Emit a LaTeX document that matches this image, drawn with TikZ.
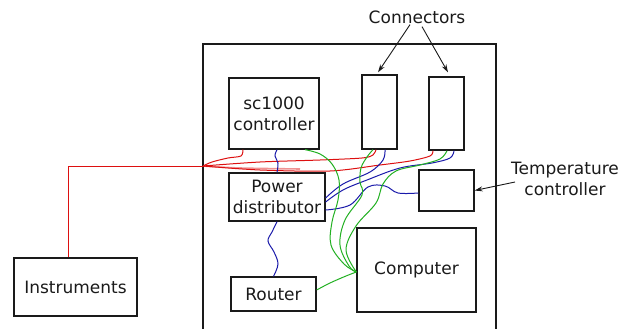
\documentclass[tikz,border=0pt]{standalone}
\usepackage{fontspec}
\setmainfont{DejaVu Sans}
\usetikzlibrary{arrows.meta}
\definecolor{ink}{HTML}{1A1A1A}
\definecolor{wred}{HTML}{DD1010}
\definecolor{wblue}{HTML}{1A1AAA}
\definecolor{wgreen}{HTML}{22B022}
\tikzset{
  unit/.style={draw=ink, line width=1.3pt, inner sep=0pt, align=center,
    text=ink, font=\fontsize{17}{21}\selectfont},
  label/.style={inner sep=0pt, align=center, text=ink,
    font=\fontsize{17}{21}\selectfont},
  frame/.style={draw=ink, line width=1.3pt},
  pointer/.style={draw=ink, line width=0.9pt, -{Stealth[length=8pt,width=5pt]}},
  redw/.style={draw=wred, line width=1pt},
  bluew/.style={draw=wblue, line width=1pt},
  greenw/.style={draw=wgreen, line width=1pt},
}
\begin{document}
\begin{tikzpicture}[x=1pt,y=-1pt]
\useasboundingbox (0,0) rectangle (627,329);

% cabinet outline, open at the bottom
\draw[frame] (203,329) |- (496,44) -- (496,329);

% units
\node[unit, minimum width=90pt, minimum height=71pt] (sc) at (274,113.5) {sc1000\\controller};
\node[unit, minimum width=35pt, minimum height=74pt] (c1) at (379.5,112) {};
\node[unit, minimum width=35pt, minimum height=73pt] (c2) at (446.5,113.5) {};
\node[unit, minimum width=96pt, minimum height=48pt] (pd) at (277,197) {Power\\distributor};
\node[unit, minimum width=55pt, minimum height=41pt] (tc) at (446.5,190.5) {};
\node[unit, minimum width=119pt, minimum height=84pt] (comp) at (416.5,270) {Computer};
\node[unit, minimum width=85pt, minimum height=34pt] (router) at (273.5,294) {Router};
\node[unit, minimum width=123pt, minimum height=58pt] (inst) at (75.5,287) {Instruments};

% labels
\node[label] (conlbl) at (417,17) {Connectors};
\node[label] (tlbl) at (565,179) {Temperature\\controller};
\coordinate (ta) at (515,182);

\draw[pointer] ([xshift=-7,yshift=-1]conlbl.south) -- ([xshift=-1.5,yshift=2]c1.north);
\draw[pointer] ([xshift=5,yshift=-3]conlbl.south) -- ([xshift=1.5,yshift=4]c2.north);
\draw[pointer] (ta) -- (tc.east);

% instrument cable entry point
\coordinate (J) at (203,166);
\draw[redw] ([xshift=-7.5]inst.north) |- (J);

% red wires
\draw[redw] plot[smooth,tension=0.5] coordinates {([xshift=-31]sc.south) (241,156) (228,158) (212,162) (J)};
\draw[redw] plot[smooth,tension=0.5] coordinates {([xshift=-3.5]c1.south) (373,155) (362,158) (320,160) (260,162) (J)};
\draw[redw] plot[smooth,tension=0.5] coordinates {([xshift=-13.5]c2.south) (430,156) (410,161) (380,165) (330,171) (260,170) (J)};
\draw[redw, opacity=0.45, line width=1.6pt] plot[smooth,tension=0.5] coordinates {(J) (240,168) (300,169)};

% blue wires
\draw[bluew] plot[smooth,tension=0.6] coordinates {([xshift=3]sc.south) (275,156) (278,163) (pd.north)};
\draw[bluew] plot[smooth,tension=0.6] coordinates {([xshift=5.5]c1.south) (383,160) (370,172) (343,184) ([yshift=-1]pd.east)};
\draw[bluew] plot[smooth,tension=0.6] coordinates {([xshift=7.5]c2.south) (450,158) (432,163) (400,168) (367,180) (343,190) ([yshift=-5]pd.east)};
\draw[bluew] plot[smooth,tension=0.6] coordinates {([yshift=-2.5]tc.west) (398,193) (385,186) (368,187) (350,205) ([yshift=-13]pd.east)};
\draw[bluew] plot[smooth,tension=0.6] coordinates {(pd.south) (272,232) (268,241) (274,252) (278,264) (router.north)};

% green wires
\draw[greenw] plot[smooth,tension=0.6] coordinates {([xshift=31]sc.south) (320,154) (332,164) (339,180) (338,200) (332,222) (331,245) (344,264) ([yshift=-2]comp.west)};
\draw[greenw] plot[smooth,tension=0.6] coordinates {([xshift=-6.5]c1.south) (367,157) (361,168) (360,182) (362,195) (345,220) (340,245) (349,266) ([yshift=-2]comp.west)};
\draw[greenw] plot[smooth,tension=0.6] coordinates {([xshift=0.5]c2.south) (440,159) (420,165) (396,171) (383,184) (376,203) (356,226) (346,250) ([yshift=-2]comp.west)};
\draw[greenw] plot[smooth,tension=0.6] coordinates {([yshift=4]router.east) (330,283) (346,276) ([yshift=-2]comp.west)};
\end{tikzpicture}
\end{document}
